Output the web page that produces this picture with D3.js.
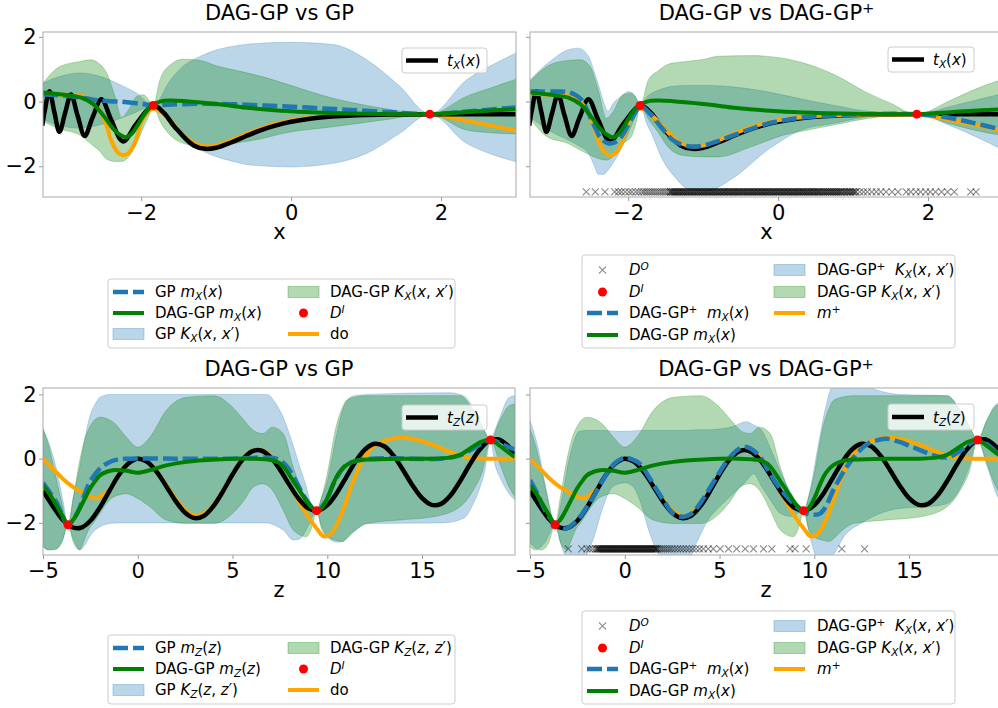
<!DOCTYPE html>
<html>
<head>
<meta charset="utf-8">
<script src="https://cdn.jsdelivr.net/npm/d3@7"></script>
<style>
  body { margin: 0; background: #fff; }
  svg { display: block; }
  text { font-family: "DejaVu Sans", sans-serif; font-weight: normal; white-space: pre; }
</style>
</head>
<body>
<svg id="fig" width="998" height="708"></svg>
<script>
// ---------- data ----------
// x-space (top row): [x, y]
const tX = [[-3.32,-0.746],[-3.285,-0.263],[-3.224,0.322],[-3.16,-0.308],[-3.091,-0.94],[-3.016,-0.361],
  [-2.936,0.216],[-2.85,-0.422],[-2.754,-1.063],[-2.649,-0.494],[-2.531,0.072],[-2.398,-0.578],[-2.243,-1.232],
  [-2.061,-0.676],[-1.838,-0.125],[-1.7,-0.343],[-1.55,-0.791],[-1.3,-1.358],[-1.145,-1.462],[-1.0,-1.427],
  [-0.8,-1.265],[-0.6,-1.065],[-0.4,-0.881],[-0.2,-0.735],[0,-0.625],[0.25,-0.531],[0.5,-0.473],[0.75,-0.438],
  [1.0,-0.417],[1.5,-0.399],[2.0,-0.394],[2.5,-0.393],[3.0,-0.393]];

const doX = [[-3.31,0.26],[-3.1,0.22],[-2.9,0.19],[-2.75,0.15],[-2.64,0.0],[-2.53,-0.36],[-2.46,-0.75],
  [-2.4,-1.2],[-2.31,-1.58],[-2.24,-1.66],[-2.17,-1.6],[-2.08,-1.25],[-1.99,-0.6],[-1.9,-0.3],[-1.84,-0.22],
  [-1.75,-0.3],[-1.6,-0.62],[-1.45,-1.0],[-1.3,-1.28],[-1.15,-1.38],[-1.0,-1.36],[-0.8,-1.2],[-0.6,-1.0],
  [-0.3,-0.75],[0,-0.58],[0.5,-0.45],[1.0,-0.41],[1.5,-0.4],[1.85,-0.41],[2.1,-0.48],[2.35,-0.6],[2.7,-0.76],[3.0,-0.9]];

const dagMeanX = [[-3.31,0.28],[-3.0,0.2],[-2.8,0.12],[-2.64,-0.08],[-2.55,-0.3],[-2.46,-0.57],[-2.37,-0.85],
  [-2.28,-1.03],[-2.2,-1.1],[-2.12,-0.98],[-2.04,-0.7],[-1.96,-0.4],[-1.9,-0.22],[-1.84,-0.1],[-1.75,0.0],
  [-1.6,0.03],[-1.4,0.01],[-1.2,-0.03],[-0.9,-0.1],[-0.55,-0.2],[0,-0.3],[0.5,-0.35],[1.0,-0.38],[1.5,-0.39],
  [1.85,-0.39],[2.3,-0.33],[2.7,-0.27],[3.0,-0.24]];

const gpMeanX = [[-3.31,0.22],[-3.0,0.18],[-2.75,0.1],[-2.55,0.03],[-2.3,0.0],[-2.0,-0.07],[-1.84,-0.12],[-1.6,-0.09],
  [-1.2,-0.07],[-0.8,-0.08],[-0.4,-0.12],[0,-0.16],[0.4,-0.21],[0.8,-0.26],[1.2,-0.31],[1.5,-0.35],[1.85,-0.39],
  [2.2,-0.34],[2.6,-0.26],[3.0,-0.18]];

// bands: [x, lower, upper]
const gpBandX = [[-3.31,-0.55,0.57],[-3.08,-0.75,0.78],[-2.81,-0.82,0.88],[-2.55,-0.72,0.78],[-2.28,-0.52,0.52],
  [-2.06,-0.32,0.26],[-1.84,-0.12,-0.12],[-1.61,-0.62,0.67],[-1.44,-1.19,1.09],[-1.21,-1.5,1.4],[-0.99,-1.71,1.6],
  [-0.77,-1.85,1.71],[-0.55,-1.96,1.78],[0,-2.02,1.83],[0.56,-1.91,1.76],[1.01,-1.6,1.29],[1.45,-0.98,0.47],
  [1.85,-0.39,-0.39],[2.34,-1.29,0.67],[2.7,-1.65,1.15],[3.0,-1.86,1.5]];

const dagBandX = [[-3.31,-0.62,0.57],[-3.08,-0.85,1.09],[-2.81,-1.05,1.24],[-2.68,-1.29,1.29],[-2.57,-1.5,1.19],
  [-2.46,-1.78,0.88],[-2.35,-1.85,0.16],[-2.26,-1.85,-0.49],[-2.17,-1.72,-0.26],[-2.06,-1.3,0.16],[-1.97,-0.8,0.21],
  [-1.9,-0.45,0.05],[-1.84,-0.12,-0.12],[-1.75,-0.6,0.67],[-1.61,-1.05,1.14],[-1.44,-1.29,1.31],[-1.21,-1.38,1.27],
  [-0.99,-1.4,1.1],[-0.77,-1.3,0.98],[-0.4,-1.15,0.78],[-0.1,-0.98,0.57],[0.56,-0.78,0.1],[1.23,-0.57,-0.21],
  [1.85,-0.39,-0.39],[2.34,-0.88,0.16],[2.7,-0.97,0.45],[3.0,-1.0,0.69]];

const dagPlusMeanX = [[-3.31,0.31],[-3.0,0.31],[-2.8,0.29],[-2.7,0.2],[-2.62,0.05],[-2.55,-0.25],[-2.49,-0.57],
  [-2.43,-0.85],[-2.38,-1.09],[-2.27,-1.29],[-2.17,-1.25],[-2.08,-1.05],[-2.0,-0.72],[-1.91,-0.36],[-1.84,-0.13],
  [-1.7,-0.4],[-1.55,-0.82],[-1.4,-1.2],[-1.2,-1.38],[-1.0,-1.36],[-0.8,-1.22],[-0.5,-0.96],[-0.2,-0.72],
  [0.2,-0.53],[0.6,-0.44],[1.0,-0.4],[1.5,-0.38],[1.84,-0.39],[2.2,-0.47],[2.6,-0.66],[3.0,-0.88]];

const dagPlusBandX = [[-3.31,-0.47,0.67],[-3.07,-0.88,1.19],[-2.8,-1.19,1.6],[-2.67,-1.35,1.65],[-2.53,-1.6,1.4],
  [-2.45,-2.0,0.9],[-2.4,-2.25,0.55],[-2.33,-2.25,0.0],[-2.27,-2.12,-0.3],[-2.2,-1.9,-0.05],[-2.09,-1.45,0.16],
  [-2.0,-1.0,0.31],[-1.92,-0.55,0.2],[-1.84,-0.12,-0.12],[-1.75,-0.7,0.15],[-1.69,-0.98,0.25],[-1.56,-1.71,0.38],
  [-1.38,-2.33,0.48],[-1.2,-2.69,0.5],[-0.94,-2.74,0.5],[-0.58,-2.33,0.45],[-0.14,-1.5,0.3],[0.31,-0.88,0.08],
  [0.75,-0.67,-0.12],[1.2,-0.47,-0.3],[1.5,-0.42,-0.34],[1.84,-0.39,-0.39],[2.3,-0.75,-0.15],[2.65,-1.1,0.05],[3.0,-1.5,0.25]];

const dagBandX2 = [[-3.31,-0.52,0.62],[-3.08,-1.09,1.09],[-2.81,-1.29,1.27],[-2.64,-1.5,1.29],[-2.51,-1.65,1.09],
  [-2.4,-1.76,0.36],[-2.29,-1.81,-0.52],[-2.2,-1.7,-0.31],[-2.07,-1.3,0.21],[-1.96,-1.09,0.26],[-1.89,-0.6,0.1],
  [-1.84,-0.12,-0.12],[-1.73,-0.55,0.67],[-1.6,-0.95,0.95],[-1.47,-1.4,1.15],[-1.3,-1.65,1.22],[-1.0,-1.71,1.3],
  [-0.8,-1.71,1.4],[-0.36,-1.4,1.42],[0.08,-1.03,1.33],[0.4,-0.88,1.15],[0.75,-0.72,0.83],[1.2,-0.52,0.26],
  [1.5,-0.44,-0.05],[1.84,-0.39,-0.39],[2.31,-0.7,0.05],[2.65,-0.9,0.4],[3.0,-1.05,0.7]];

const interX = [[-1.84,-0.12],[1.85,-0.39]];
const obsX = [-2.56,-2.44,-2.31,-2.18,-2.13,-2.09,-2.04,-1.99,-1.95,-1.9,-1.86,-1.82,-1.79,-1.76,-1.73,-1.7,
  -1.67,-1.64,-1.61,-1.58,-1.55,-1.52,-1.49,-1.46,-1.43,-1.41,-1.38,-1.36,-1.33,-1.31,-1.28,-1.26,-1.23,-1.21,
  -1.18,-1.16,-1.13,-1.11,-1.08,-1.06,-1.03,-1.01,-0.98,-0.96,-0.93,-0.91,-0.88,-0.86,-0.83,-0.81,-0.78,-0.76,
  -0.73,-0.71,-0.68,-0.66,-0.63,-0.61,-0.58,-0.56,-0.53,-0.51,-0.48,-0.46,-0.43,-0.41,-0.38,-0.36,-0.33,-0.31,
  -0.28,-0.26,-0.23,-0.21,-0.18,-0.16,-0.13,-0.11,-0.08,-0.06,-0.03,-0.01,0.02,0.04,0.07,0.09,0.12,0.14,0.17,
  0.19,0.22,0.24,0.27,0.29,0.32,0.34,0.37,0.39,0.42,0.44,0.47,0.49,0.52,0.54,0.57,0.6,0.63,0.66,0.69,0.72,0.75,
  0.78,0.81,0.84,0.88,0.92,0.96,1.0,1.04,1.09,1.14,1.19,1.25,1.31,1.37,1.44,1.52,1.6,1.71,1.77,1.84,1.9,1.97,
  2.03,2.1,2.18,2.26,2.35,2.57,2.64,
  // the crowded core of the sample
  -1.44,-1.415,-1.39,-1.365,-1.34,-1.315,-1.29,-1.265,-1.24,-1.215,-1.19,-1.165,-1.14,-1.115,-1.09,-1.065,-1.04,
  -1.015,-0.99,-0.965,-0.94,-0.915,-0.89,-0.865,-0.84,-0.815,-0.79,-0.765,-0.74,-0.715,-0.69,-0.665,-0.64,-0.615,
  -0.59,-0.565,-0.54,-0.515,-0.49,-0.465,-0.44,-0.415,-0.39,-0.365,-0.34,-0.315,-0.29,-0.265,-0.24,-0.215,-0.19,
  -0.165,-0.14,-0.115,-0.09,-0.065,-0.04,-0.015,0.01,0.035,0.06,0.085,0.11,0.135,0.16,0.185,0.21,0.235,0.26,0.285,
  0.31,0.335,0.36,0.385,0.41,0.435,0.46,0.485,0.51,0.535,0.56,0.585,0.61,0.635,0.66,0.685,0.71,0.735,0.76,0.785,
  0.81,0.835,0.86,0.885,0.91,0.935,0.96,0.985,1.01,1.035];
const obsXLevel = -2.79;

// z-space (bottom row)
const tZ = [[-5,-1.0],[-4.5,-1.463],[-4,-1.875],[-3.5,-2.128],[-3,-2.152],[-2.5,-1.934],[-2,-1.521],[-1.5,-1.007],
  [-1,-0.511],[-0.5,-0.148],[0,0],[0.5,-0.098],[1,-0.411],[1.5,-0.857],[2,-1.321],[2.5,-1.684],[3,-1.851],
  [3.5,-1.776],[4,-1.472],[4.5,-1.009],[5,-0.495],[5.5,-0.051],[6,0.219],[6.5,0.254],[7,0.049],[7.5,-0.341],
  [8,-0.816],[8.5,-1.256],[9,-1.549],[9.5,-1.619],[10,-1.446],[10.5,-1.067],[11,-0.573],[11.5,-0.079],[12,0.295],
  [12.5,0.463],[13,0.386],[13.5,0.086],[14,-0.36],[14.5,-0.839],[15,-1.232],[15.5,-1.439],[16,-1.407],
  [16.5,-1.141],[17,-0.702],[17.5,-0.198],[18,0.254],[18.5,0.543],[19,0.602],[19.5,0.419],[19.9,0.128]];

const doZ = [[-5,-0.02],[-4.5,-0.3],[-4,-0.6],[-3.5,-0.85],[-3,-1.03],[-2.5,-1.18],[-2.2,-1.24],[-1.9,-1.15],
  [-1.6,-1.02],[-1.3,-0.8],[-1,-0.5],[-0.5,-0.14],[0,0],[0.5,-0.09],[1,-0.39],[1.5,-0.82],[2,-1.26],[2.5,-1.6],
  [3,-1.77],[3.5,-1.71],[4,-1.43],[4.5,-1.0],[5,-0.5],[5.5,-0.05],[6,0.23],[6.5,0.28],[7,0.1],[7.5,-0.3],
  [8,-0.83],[8.5,-1.33],[9,-1.82],[9.5,-2.22],[9.8,-2.42],[10.2,-2.33],[10.6,-1.92],[11,-1.3],[11.4,-0.65],
  [11.8,-0.12],[12.4,0.36],[13.1,0.57],[13.8,0.65],[14.5,0.62],[15.6,0.42],[16.5,0.2],[17.3,0.05],[18.2,0],[19.9,0]];

const dagMeanZ = [[-5,-0.83],[-4.6,-1.15],[-4.3,-1.45],[-4,-1.75],[-3.68,-2.03],[-3.4,-1.9],[-3.06,-1.55],
  [-2.8,-1.25],[-2.54,-0.95],[-2.25,-0.7],[-2,-0.52],[-1.6,-0.4],[-1.3,-0.36],[-0.6,-0.38],[0,-0.44],[0.64,-0.36],
  [1.5,-0.21],[2.57,-0.1],[4.15,-0.03],[5.9,0],[7.1,-0.05],[7.5,-0.15],[7.85,-0.38],[8.2,-0.7],[8.55,-1.0],
  [9.07,-1.45],[9.43,-1.62],[9.65,-1.58],[9.86,-1.4],[10.1,-1.1],[10.3,-0.8],[10.6,-0.45],[11,-0.2],[11.5,-0.07],
  [12.05,-0.03],[13.8,0],[15.6,0],[16.5,0.04],[17,0.12],[17.4,0.26],[17.8,0.42],[18.1,0.52],[18.61,0.59],
  [19.1,0.4],[19.5,0.22],[19.9,0.05]];

const gpMeanZ = [[-5,-0.75],[-4.3,-1.35],[-3.68,-2.05],[-3.2,-1.7],[-2.8,-1.1],[-2.5,-0.7],[-2,-0.31],[-1.6,-0.14],
  [-1.1,-0.03],[-0.5,0],[2,0],[5,0],[7.3,0],[7.8,-0.2],[8.3,-0.65],[8.8,-1.2],[9.43,-1.62],[9.9,-1.35],
  [10.4,-0.7],[11,-0.2],[12,-0.02],[16,0],[17,0.1],[17.8,0.35],[18.61,0.59],[19.2,0.45],[19.9,0.28]];

const gpBandZ = [[-5,-2.74,0.93],[-4.7,-2.84,0.5],[-4.3,-2.8,-0.3],[-3.95,-2.5,-1.3],[-3.68,-2.06,-2.06],
  [-3.4,-2.5,-1.2],[-3.06,-2.84,-0.26],[-2.8,-2.7,0.6],[-2.54,-2.43,1.29],[-2.2,-2.2,1.75],[-2,-2.12,1.91],
  [-1.48,-2.02,2.0],[-1.13,-2.0,2.0],[3,-2.0,2.0],[6.8,-2.0,2.0],[7.3,-2.1,1.7],[7.67,-2.22,1.29],[8.2,-2.53,0.4],
  [8.55,-2.5,-0.26],[8.9,-2.2,-0.9],[9.07,-2.0,-1.29],[9.43,-1.62,-1.62],[9.7,-2.1,-1.2],[9.96,-2.4,-0.78],
  [10.5,-2.6,0.78],[10.8,-2.58,1.5],[11.2,-2.35,1.91],[11.4,-2.27,1.96],[12.1,-2.02,2.0],[16,-2.0,2.05],
  [16.5,-1.98,2.05],[17,-1.9,2.0],[17.3,-1.81,1.91],[17.7,-1.4,1.55],[18,-0.98,1.19],[18.3,-0.4,0.85],
  [18.61,0.58,0.58],[18.85,-0.2,0.9],[19.1,-0.57,1.29],[19.6,-1.1,1.91],[19.9,-1.29,1.96]];

const dagBandZ = [[-5,-2.74,0.93],[-4.7,-2.84,0.4],[-4.38,-2.84,-0.4],[-4,-2.6,-1.4],[-3.68,-2.06,-2.06],
  [-3.4,-2.6,-1.2],[-3.06,-2.84,-0.05],[-2.8,-2.5,0.6],[-2.54,-2.15,0.98],[-2.36,-2.02,1.15],[-2,-1.7,1.29],
  [-1.65,-1.4,1.25],[-1.3,-1.2,1.14],[-0.6,-1.09,0.67],[0,-1.24,0.36],[0.64,-1.5,0.67],[1.5,-1.91,1.5],
  [2.57,-2.02,1.91],[4,-2.02,1.96],[5,-1.71,1.6],[5.6,-1.3,1.2],[6.1,-0.88,0.88],[6.6,-0.78,0.78],[7.1,-0.98,0.98],
  [7.67,-1.6,0.78],[8.2,-2.22,-0.26],[8.9,-2.43,-1.29],[9.2,-2.1,-1.5],[9.43,-1.62,-1.62],[9.7,-2.2,-1.2],
  [9.96,-2.43,-0.57],[10.5,-2.55,1.09],[10.8,-2.58,1.6],[11,-2.5,1.81],[11.5,-2.22,1.92],[12.07,-2.02,1.96],
  [13.8,-1.91,1.96],[15.6,-1.81,1.96],[17,-1.5,1.96],[17.7,-0.98,1.5],[18.2,-0.36,0.98],[18.61,0.58,0.58],
  [19.1,-0.16,1.19],[19.6,-0.9,1.65],[19.9,-1.19,1.7]];

const dagPlusMeanZ = [[-5,-0.67],[-4.6,-1.1],[-4.3,-1.5],[-4,-1.8],[-3.68,-2.05],[-3.3,-2.17],[-3.07,-2.17],
  [-2.7,-2.02],[-2.36,-1.81],[-2,-1.5],[-1.66,-1.19],[-1.3,-0.82],[-0.95,-0.47],[-0.5,-0.13],[0,0.03],[0.4,-0.03],
  [0.8,-0.16],[1.25,-0.55],[1.7,-0.98],[2.1,-1.35],[2.56,-1.71],[3.1,-1.81],[3.5,-1.72],[3.97,-1.4],[4.4,-1.0],
  [4.85,-0.57],[5.3,-0.15],[5.73,0.16],[6.1,0.33],[6.43,0.36],[6.8,0.25],[7.14,0.05],[7.6,-0.4],[8,-0.78],
  [8.5,-1.15],[8.9,-1.4],[9.25,-1.58],[9.6,-1.71],[9.95,-1.75],[10.3,-1.71],[10.6,-1.5],[11,-0.98],[11.35,-0.6],
  [11.7,-0.26],[12.05,0.02],[12.4,0.26],[12.85,0.48],[13.3,0.57],[13.8,0.62],[14.5,0.52],[15.1,0.38],[15.6,0.26],
  [16.1,0.14],[16.6,0.05],[17,0.04],[17.3,0.1],[17.7,0.25],[18,0.36],[18.3,0.5],[18.61,0.59],[19,0.5],[19.3,0.36],
  [19.7,0.15],[19.9,0.05]];

const dagPlusBandZ = [[-5,-2.6,1.19],[-4.6,-2.8,0.4],[-4.2,-2.6,-0.8],[-3.68,-2.06,-2.06],[-3.3,-2.8,-1.2],
  [-3,-3.2,-0.2],[-2.7,-3.4,0.5],[-2.4,-3.4,0.85],[-2,-3.0,0.88],[-1.6,-2.4,0.88],[-1.2,-1.6,0.88],[-0.8,-1.0,0.87],
  [-0.4,-0.8,0.85],[0,-0.75,0.85],[0.4,-0.85,0.86],[0.8,-1.3,0.88],[1.3,-2.3,0.88],[1.8,-3.0,0.88],[2.5,-3.4,0.88],
  [3.2,-3.3,0.88],[3.8,-2.6,0.9],[4.4,-1.9,0.9],[5,-1.5,0.92],[5.7,-1.1,1.0],[6.4,-0.7,1.15],[6.8,-0.47,1.05],
  [7.2,-0.85,0.9],[7.7,-1.3,0.3],[8.2,-1.7,-0.4],[8.8,-1.8,-1.1],[9.43,-1.62,-1.62],[9.8,-2.5,-0.9],[10.2,-3.2,0.4],
  [10.6,-3.3,1.6],[11,-3.0,2.3],[11.6,-2.4,2.4],[12.5,-2.0,2.3],[13.5,-1.7,2.1],[14.5,-1.55,2.0],[16,-1.5,1.98],
  [17,-1.4,1.96],[17.7,-0.9,1.5],[18.2,-0.2,0.98],[18.61,0.58,0.58],[19.1,-0.2,1.2],[19.6,-1.1,1.7],[19.9,-1.4,1.75]];

const interZ = [[-3.68,-2.06],[9.43,-1.62],[18.61,0.58]];
const obsZ = [-2.98,-2.27,-2.0,-1.85,-1.7,-1.56,-1.48,-1.4,-1.32,-1.24,-1.16,-1.08,-1.0,-0.92,-0.84,-0.76,-0.68,
  -0.6,-0.52,-0.44,-0.36,-0.28,-0.2,-0.12,-0.04,0.04,0.12,0.2,0.28,0.36,0.44,0.52,0.6,0.68,0.76,0.84,0.92,1.0,
  1.08,1.16,1.24,1.32,1.4,1.48,1.56,1.64,1.72,1.82,1.92,2.03,2.14,2.26,2.38,2.5,2.64,2.78,2.93,3.08,3.24,3.4,
  3.58,3.76,3.95,4.15,4.4,4.67,5.03,5.47,5.9,6.35,6.79,7.32,7.76,8.72,8.98,9.57,11.45,12.65,
  // the crowded core of the sample
  -1.44,-1.36,-1.28,-1.2,-1.12,-1.04,-0.96,-0.88,-0.8,-0.72,-0.64,-0.56,-0.48,-0.4,-0.32,-0.24,-0.16,-0.08,0,
  0.08,0.16,0.24,0.32,0.4,0.48,0.56,0.64,0.72,0.8,0.88,0.96,1.04,1.12,1.2,1.28,1.36,1.44,1.52,1.6,1.68];
const obsZLevel = -2.81;

const ticksXTop = [-2, 0, 2];
const ticksXBottom = [-5, 0, 5, 10, 15];
const ticksY = [-2, 0, 2];

// ---------- drawing ----------
const C0 = "#1f77b4", GREEN = "#008000", ORANGE = "#ffa500";
const svg = d3.select("#fig");

// text with italic / sub / superscript pieces
function rich(sel, segs, size) {
  let cur = 0;
  segs.forEach(([t, s]) => {
    const small = s === "sub" || s === "sup" || s === "supn";
    const target = s === "sub" ? 0.22 * size : (s === "sup" || s === "supn") ? -0.34 * size : 0;
    const ts = sel.append("tspan").text(t).attr("dy", target - cur);
    cur = target;
    if (small) ts.attr("font-size", size * 0.7);
    if (s === "i" || s === "sub" || s === "sup") ts.attr("font-style", "italic");
  });
}

function makePanel(cfg, id) {
  const x = d3.scaleLinear().domain(cfg.xdom).range([cfg.left, cfg.right]);
  const y = d3.scaleLinear().domain(cfg.ydom).range([cfg.bottom, cfg.top]);
  svg.append("clipPath").attr("id", id).append("rect")
    .attr("x", cfg.left).attr("y", cfg.top)
    .attr("width", cfg.right - cfg.left).attr("height", cfg.bottom - cfg.top);
  const g = svg.append("g");
  const plot = g.append("g").attr("clip-path", `url(#${id})`);
  return { g, plot, x, y, cfg };
}

function band(p, data, color) {
  p.plot.append("path").datum(data)
    .attr("d", d3.area().x(d => p.x(d[0])).y0(d => p.y(d[1])).y1(d => p.y(d[2])).curve(d3.curveMonotoneX))
    .attr("fill", color).attr("fill-opacity", 0.3)
    .attr("stroke", color).attr("stroke-opacity", 0.3).attr("stroke-width", 0.8);
}

function line(p, data, color, width, dash) {
  p.plot.append("path").datum(data)
    .attr("d", d3.line().x(d => p.x(d[0])).y(d => p.y(d[1])).curve(d3.curveCatmullRom.alpha(0.5)))
    .attr("fill", "none").attr("stroke", color).attr("stroke-width", width)
    .attr("stroke-dasharray", dash || null);
}

function dots(p, data) {
  p.plot.selectAll(null).data(data).enter().append("circle")
    .attr("cx", d => p.x(d[0])).attr("cy", d => p.y(d[1])).attr("r", 4.5).attr("fill", "red");
}

function crosses(p, xs, level) {
  p.plot.selectAll(null).data(xs).enter().append("path")
    .attr("transform", d => `translate(${p.x(d)},${p.y(level)})`)
    .attr("d", "M-3.5,-3.5L3.5,3.5M-3.5,3.5L3.5,-3.5")
    .attr("stroke", "#000").attr("stroke-opacity", 0.45).attr("stroke-width", 1.2).attr("fill", "none");
}

function axes(p, xticks, showY, title, xlabel) {
  const c = p.cfg;
  const styleAxis = a => {
    a.attr("font-size", 21).attr("font-family", "DejaVu Sans");
    a.select(".domain").remove();
    a.selectAll("line").attr("stroke", "#999");
    a.selectAll("text").attr("fill", "#000");
  };
  p.g.append("g").attr("transform", `translate(0,${c.bottom})`)
    .call(d3.axisBottom(p.x).tickValues(xticks).tickSize(4).tickPadding(4).tickFormat(d3.format("d")))
    .call(styleAxis);
  p.g.append("g").attr("transform", `translate(${c.left},0)`)
    .call(d3.axisLeft(p.y).tickValues(ticksY).tickSize(4).tickPadding(2.5)
      .tickFormat(showY ? d3.format("d") : ""))
    .call(styleAxis);
  p.g.append("rect").attr("x", c.left).attr("y", c.top)
    .attr("width", c.right - c.left).attr("height", c.bottom - c.top)
    .attr("fill", "none").attr("stroke", "#aaa").attr("stroke-width", 1);
  const mid = (c.left + c.right) / 2;
  rich(p.g.append("text").attr("x", mid).attr("y", c.top - 12).attr("text-anchor", "middle").attr("font-size", 21), title, 21);
  p.g.append("text").attr("x", mid).attr("y", c.bottom + 42).attr("text-anchor", "middle")
    .attr("font-size", 21).text(xlabel);
}

function handle(g, kind, color, hx, cy) {
  if (kind === "line" || kind === "dash") {
    g.append("line").attr("x1", hx).attr("x2", hx + 31).attr("y1", cy).attr("y2", cy)
      .attr("stroke", color).attr("stroke-width", kind === "dash" ? 4.5 : 4)
      .attr("stroke-dasharray", kind === "dash" ? "15,5" : null);
  } else if (kind === "patch") {
    g.append("rect").attr("x", hx).attr("y", cy - 5.5).attr("width", 31).attr("height", 11)
      .attr("fill", color).attr("fill-opacity", 0.3).attr("stroke", color).attr("stroke-opacity", 0.3);
  } else if (kind === "dot") {
    g.append("circle").attr("cx", hx + 15.5).attr("cy", cy).attr("r", 4.5).attr("fill", "red");
  } else if (kind === "cross") {
    g.append("path").attr("transform", `translate(${hx + 15.5},${cy})`)
      .attr("d", "M-3.5,-3.5L3.5,3.5M-3.5,3.5L3.5,-3.5")
      .attr("stroke", "#000").attr("stroke-opacity", 0.42).attr("stroke-width", 1.1);
  }
}

function legend(box, rows, cols, items) {
  const g = svg.append("g");
  g.append("rect").attr("x", box[0]).attr("y", box[1]).attr("width", box[2]).attr("height", box[3])
    .attr("rx", 3).attr("fill", "#fff").attr("fill-opacity", 0.8).attr("stroke", "#ccc");
  items.forEach((it, i) => {
    const col = cols[Math.floor(i / rows.length)], cy = rows[i % rows.length];
    handle(g, it.kind, it.color, col[0], cy);
    rich(g.append("text").attr("x", col[1]).attr("y", cy + 5).attr("font-size", 15), it.label, 15);
  });
}

function innerLegend(box, label) {
  const g = svg.append("g");
  g.append("rect").attr("x", box[0]).attr("y", box[1]).attr("width", box[2]).attr("height", box[3])
    .attr("rx", 3).attr("fill", "#fff").attr("fill-opacity", 0.8).attr("stroke", "#ccc");
  const cy = box[1] + box[3] / 2;
  g.append("line").attr("x1", box[0] + 4).attr("x2", box[0] + 36).attr("y1", cy).attr("y2", cy)
    .attr("stroke", "#000").attr("stroke-width", 4.5);
  rich(g.append("text").attr("x", box[0] + 45).attr("y", cy + 5.5).attr("font-size", 15), label, 15);
}

// panel frames
const TL = makePanel({ left: 43, right: 516, top: 32, bottom: 197, xdom: [-3.31, 3.0], ydom: [-2.95, 2.15] }, "c1");
const TR = makePanel({ left: 530, right: 1003, top: 32, bottom: 197, xdom: [-3.31, 3.0], ydom: [-2.95, 2.15] }, "c2");
const BL = makePanel({ left: 43, right: 515, top: 388, bottom: 555, xdom: [-5, 19.9], ydom: [-3.0, 2.2] }, "c3");
const BR = makePanel({ left: 530, right: 1002, top: 388, bottom: 555, xdom: [-5, 19.9], ydom: [-3.0, 2.2] }, "c4");

// top left: DAG-GP vs GP (x)
band(TL, gpBandX, C0);
band(TL, dagBandX, GREEN);
line(TL, doX, ORANGE, 4);
line(TL, tX, "#000", 4.5);
line(TL, gpMeanX, C0, 4.5, "15,5");
line(TL, dagMeanX, GREEN, 4);
dots(TL, interX);

// top right: DAG-GP vs DAG-GP+ (x)
band(TR, dagPlusBandX, C0);
band(TR, dagBandX2, GREEN);
line(TR, tX, "#000", 4.5);
line(TR, doX, ORANGE, 4);
line(TR, dagPlusMeanX, C0, 4.5, "15,5");
line(TR, dagMeanX, GREEN, 4);
crosses(TR, obsX, obsXLevel);
dots(TR, interX);

// bottom left: DAG-GP vs GP (z)
band(BL, gpBandZ, C0);
band(BL, dagBandZ, GREEN);
line(BL, doZ, ORANGE, 4);
line(BL, tZ, "#000", 4.5);
line(BL, gpMeanZ, C0, 4.5, "15,5");
line(BL, dagMeanZ, GREEN, 4);
dots(BL, interZ);

// bottom right: DAG-GP vs DAG-GP+ (z)
band(BR, dagPlusBandZ, C0);
band(BR, dagBandZ, GREEN);
line(BR, doZ, ORANGE, 4);
line(BR, tZ, "#000", 4.5);
line(BR, dagPlusMeanZ, C0, 4.5, "15,5");
line(BR, dagMeanZ, GREEN, 4);
crosses(BR, obsZ, obsZLevel);
dots(BR, interZ);

const tGP = [["DAG-GP vs GP", "n"]];
const tPlus = [["DAG-GP vs DAG-GP", "n"], ["+", "supn"]];
axes(TL, ticksXTop, true, tGP, "x");
axes(TR, ticksXTop, false, tPlus, "x");
axes(BL, ticksXBottom, true, tGP, "z");
axes(BR, ticksXBottom, false, tPlus, "z");

innerLegend([402, 48, 85, 25], [["t", "i"], ["X", "sub"], ["(", "n"], ["x", "i"], [")", "n"]]);
innerLegend([888, 47, 86, 25], [["t", "i"], ["X", "sub"], ["(", "n"], ["x", "i"], [")", "n"]]);
innerLegend([402, 405, 85, 25], [["t", "i"], ["Z", "sub"], ["(", "n"], ["z", "i"], [")", "n"]]);
innerLegend([888, 404, 86, 26], [["t", "i"], ["Z", "sub"], ["(", "n"], ["z", "i"], [")", "n"]]);

// outer legends
const mX = [["m", "i"], ["X", "sub"], ["(", "n"], ["x", "i"], [")", "n"]];
const kX = [["K", "i"], ["X", "sub"], ["(", "n"], ["x", "i"], [", ", "n"], ["x", "i"], ["′)", "n"]];
const mZ = [["m", "i"], ["Z", "sub"], ["(", "n"], ["z", "i"], [")", "n"]];
const kZ = [["K", "i"], ["Z", "sub"], ["(", "n"], ["z", "i"], [", ", "n"], ["z", "i"], ["′)", "n"]];
const dI = [["D", "i"], ["I", "sup"]];
const dO = [["D", "i"], ["O", "sup"]];
const plusItems = [
  { kind: "cross", label: dO },
  { kind: "dot", label: dI },
  { kind: "dash", color: C0, label: [["DAG-GP", "n"], ["+", "supn"], ["  ", "n"]].concat(mX) },
  { kind: "line", color: GREEN, label: [["DAG-GP ", "n"]].concat(mX) },
  { kind: "patch", color: C0, label: [["DAG-GP", "n"], ["+", "supn"], ["  ", "n"]].concat(kX) },
  { kind: "patch", color: GREEN, label: [["DAG-GP ", "n"]].concat(kX) },
  { kind: "line", color: ORANGE, label: [["m", "i"], ["+", "supn"]] }
];

legend([108, 279, 347, 69], [292, 313, 334], [[113, 155], [288, 330]], [
  { kind: "dash", color: C0, label: [["GP ", "n"]].concat(mX) },
  { kind: "line", color: GREEN, label: [["DAG-GP ", "n"]].concat(mX) },
  { kind: "patch", color: C0, label: [["GP ", "n"]].concat(kX) },
  { kind: "patch", color: GREEN, label: [["DAG-GP ", "n"]].concat(kX) },
  { kind: "dot", label: dI },
  { kind: "line", color: ORANGE, label: [["do", "n"]] }
]);
legend([582, 255, 373, 93], [270, 292, 313, 335], [[587, 629], [774, 817]], plusItems);

legend([108, 635, 347, 69], [648, 669, 690], [[113, 155], [288, 330]], [
  { kind: "dash", color: C0, label: [["GP ", "n"]].concat(mZ) },
  { kind: "line", color: GREEN, label: [["DAG-GP ", "n"]].concat(mZ) },
  { kind: "patch", color: C0, label: [["GP ", "n"]].concat(kZ) },
  { kind: "patch", color: GREEN, label: [["DAG-GP ", "n"]].concat(kZ) },
  { kind: "dot", label: dI },
  { kind: "line", color: ORANGE, label: [["do", "n"]] }
]);
legend([582, 611, 373, 93], [626, 648, 669, 691], [[587, 629], [774, 817]], plusItems);
</script>
</body>
</html>
